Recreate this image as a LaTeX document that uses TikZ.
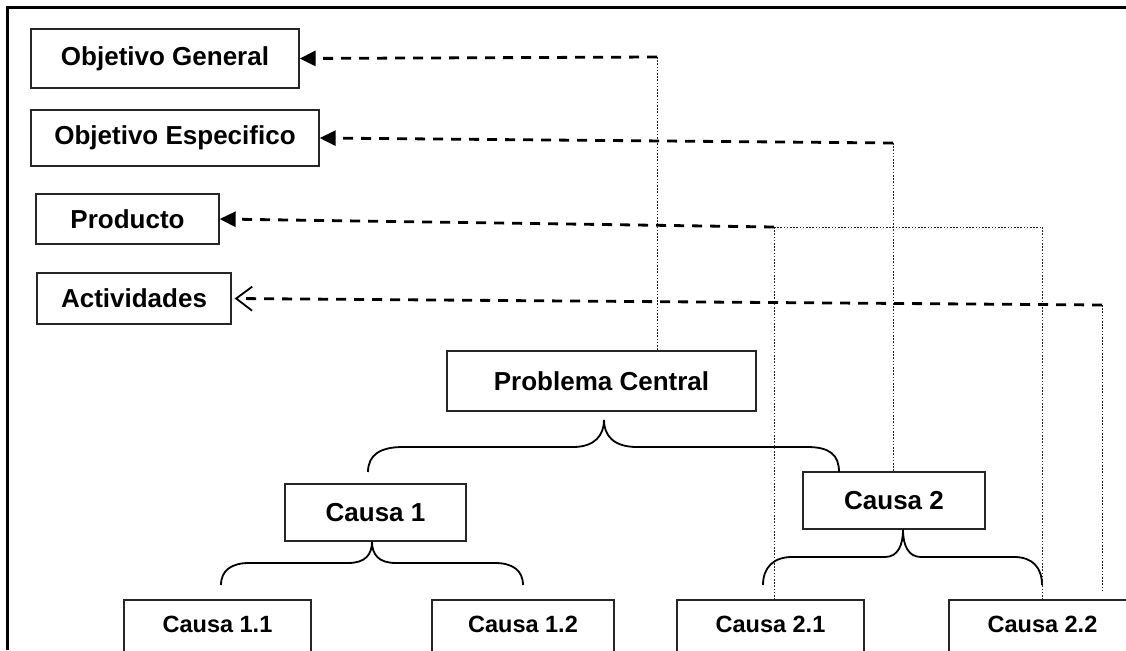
\documentclass[tikz,border=0pt]{standalone}
\usepackage{fontspec}
\setmainfont{Liberation Sans}
\usetikzlibrary{arrows.meta}

\begin{document}
\begin{tikzpicture}[x=1pt,y=-1pt,
  box/.style={draw=black!85, line width=1.3pt, inner sep=0pt,
    font=\fontsize{26}{30}\selectfont\bfseries},
  lowbox/.style={box, font=\fontsize{23.5}{28}\selectfont\bfseries,
    minimum height=64pt, text height=16.8pt, text depth=16pt},
  link/.style={line width=2.8pt, dash pattern=on 10pt off 8pt},
  guide/.style={black!85, line width=1pt, dash pattern=on 1.6pt off 1.6pt},
  brace/.style={line width=1.8pt},
  solidtip/.style={-{Triangle[length=16pt,width=15pt]}},
  opentip/.style={-{Straight Barb[length=16pt,width=24pt,line width=1.8pt]}}]

\useasboundingbox (0,0) rectangle (1126,650);
\clip (0,0) rectangle (1126,650);

% outer frame (top and left sides)
\draw[line width=2.2pt] (7.5,650) -- (7.5,7.5) -- (1130,7.5);

% planning levels on the left
\node[box, minimum width=268pt, minimum height=59pt] (og)   at (165,58.5)  {Objetivo General};
\node[box, minimum width=288pt, minimum height=56pt] (oe)   at (175,138)   {Objetivo Especifico};
\node[box, minimum width=183pt, minimum height=50pt] (prod) at (127.5,219) {Producto};
\node[box, minimum width=194pt, minimum height=51pt] (act)  at (134,298.5) {Actividades};

% problem tree
\node[box, minimum width=309pt, minimum height=60pt] (pc) at (601.5,381)  {Problema Central};
\node[box, minimum width=181pt, minimum height=57pt] (c1) at (375.5,512.5) {Causa 1};
\node[box, minimum width=182pt, minimum height=57pt] (c2) at (894,500.5)   {Causa 2};
\node[lowbox, minimum width=187pt] (c11) at (217.5,632)  {Causa 1.1};
\node[lowbox, minimum width=182pt] (c12) at (523,632)    {Causa 1.2};
\node[lowbox, minimum width=187pt] (c21) at (770.5,632)  {Causa 2.1};
\node[lowbox, minimum width=187pt] (c22) at (1042.5,632) {Causa 2.2};

% curly braces grouping the causes
\draw[brace] (368,472) .. controls (368,455) and (380,447) .. (403,447) -- (573,447)
  .. controls (595,447) and (604,435) .. (604,420)
  .. controls (604,435) and (613,447) .. (637,447) -- (807,447)
  .. controls (830,447) and (839,455) .. (839,472);
\draw[brace] (221,585) .. controls (221,570) and (232,563) .. (249,563) -- (348,563)
  .. controls (365,563) and (372,555) .. (372,541.5)
  .. controls (372,555) and (379,563) .. (396,563) -- (495,563)
  .. controls (512,563) and (523,570) .. (523,585);
\draw[brace] (763,585) .. controls (763,568) and (773,557) .. (792,557) -- (885,557)
  .. controls (898,557) and (903,545) .. (903,529.5)
  .. controls (903,545) and (908,557) .. (921,557) -- (1014,557)
  .. controls (1033,557) and (1042,568) .. (1042,585);

% junctions of the links
\coordinate (j1) at (657,57);
\coordinate (j2) at (893,143);
\coordinate (j3) at (774,227);
\coordinate (j4) at (1042,227);
\coordinate (j5) at (1102,305);
\coordinate (e5) at (1102,592);

% guide lines down to the tree
\draw[guide] (j1) -- (j1 |- pc.north);
\draw[guide] (j2) -- (j2 |- c2.north);
\draw[guide] (j3) -- (j4);
\draw[guide] (j3) -- (j3 |- c21.north);
\draw[guide] (j4) -- (j4 |- c22.north);
\draw[guide] (j5) -- (e5);

% dashed links to the planning levels
\draw[link, solidtip] (j1) -- (og.east);
\draw[link, solidtip] (j2) -- (oe.east);
\draw[link, solidtip] (j3) -- (prod.east);
\draw[link, opentip]  (j5) -- ([xshift=3pt]act.east);

\end{tikzpicture}
\end{document}
